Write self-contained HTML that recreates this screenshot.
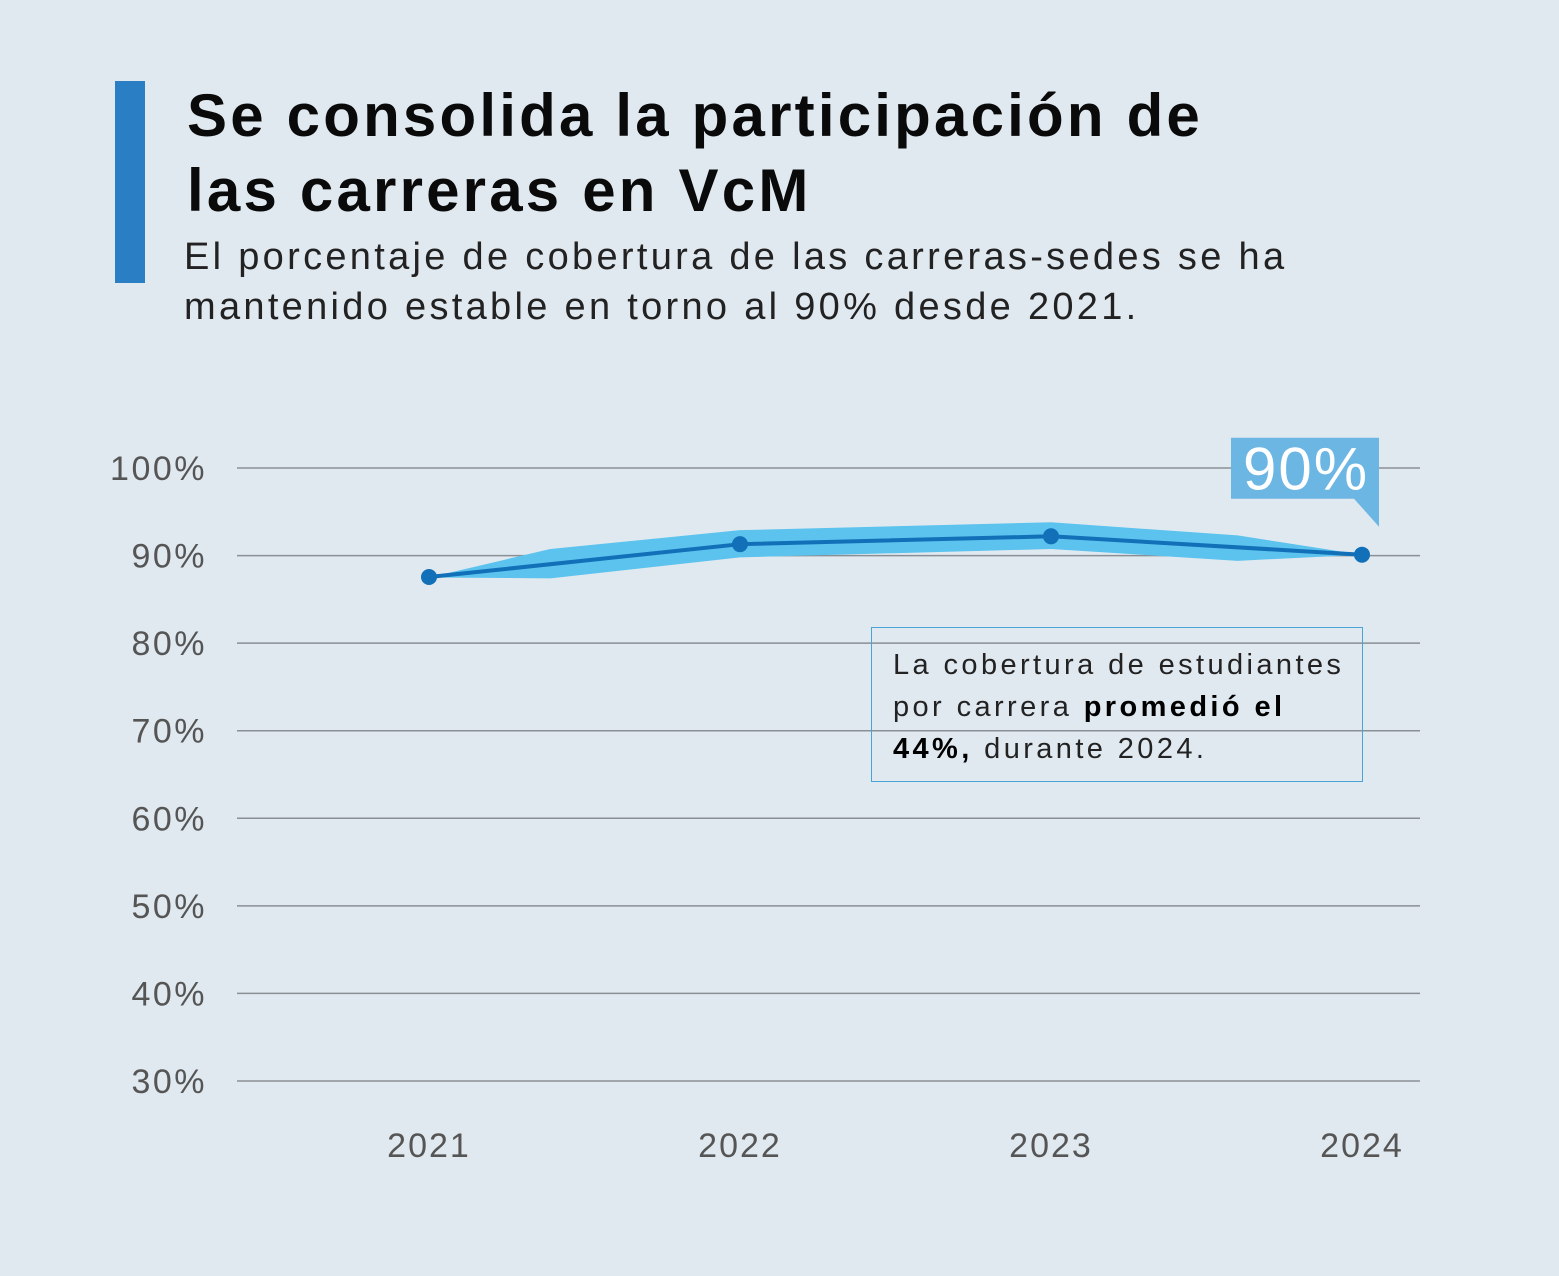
<!DOCTYPE html>
<html><head><meta charset="utf-8"><style>
body{margin:0;background:#e1e9f0;font-family:"Liberation Sans",sans-serif;}
#wrap{position:relative;width:1559px;height:1276px;overflow:hidden;background:#e1e9f0;}
.bar{position:absolute;left:115px;top:81px;width:30px;height:202px;background:#2a7fc4;}
h1{position:absolute;left:187px;top:78px;margin:0;font-size:60px;line-height:75px;font-weight:bold;color:#0a0a0a;letter-spacing:3.2px;white-space:nowrap;}
.sub{position:absolute;left:184px;top:232px;font-size:38px;line-height:50px;color:#222;letter-spacing:3.3px;white-space:nowrap;}
.note{position:absolute;left:871px;top:627px;width:492px;height:155px;border:1.5px solid #4aa3d6;box-sizing:border-box;padding:16px 0 0 21px;font-size:29px;line-height:42px;color:#222;letter-spacing:3.4px;white-space:nowrap;}
</style></head><body>
<div id="wrap">
<div class="bar"></div>
<h1>Se consolida la participación de<br>las carreras en VcM</h1>
<div class="sub">El porcentaje de cobertura de las carreras-sedes se ha<br>mantenido estable en torno al 90% desde 2021.</div>
<svg id="chart" width="1559" height="1276" style="position:absolute;left:0;top:0"></svg>
<div class="note">La cobertura de estudiantes<br>por carrera <b style="color:#000">promedió el<br>44%,</b> durante 2024.</div>
</div>
<script>
const categories=["2021","2022","2023","2024"];
const values=[87.55,91.3,92.2,90.1];
const yTicks=[100,90,80,70,60,50,40,30];
const tickLabels=["100%","90%","80%","70%","60%","50%","40%","30%"];
const bandIdx=[0,0.39,1,2,2.6,3];
const bandUpper=[87.5,90.75,92.9,93.8,92.3,90.1];
const bandLower=[87.5,87.4,89.8,90.75,89.4,90.1];
const lastLabel="90%";
const NS="http://www.w3.org/2000/svg";
const svg=document.getElementById('chart');
const y=v=>468+(100-v)*8.757;
const x=i=>429+i*311;
function mk(t,a){const e=document.createElementNS(NS,t);for(const k in a)e.setAttribute(k,a[k]);svg.appendChild(e);return e;}
yTicks.forEach((v,i)=>{
 const l=mk('line',{x1:237,x2:1420,y1:y(v),y2:y(v),stroke:'#8a8f96','stroke-width':1.5});
 
 
 const t=mk('text',{x:207,y:y(v)+12,'text-anchor':'end','font-size':34,fill:'#555','font-family':'Liberation Sans','letter-spacing':2.5});
 t.textContent=tickLabels[i];
 
 
});
categories.forEach((c,i)=>{
 const t=mk('text',{x:x(i),y:1157,'text-anchor':'middle','font-size':34,fill:'#555','font-family':'Liberation Sans','letter-spacing':2});
 t.textContent=c;
 
 
});
let pts=bandIdx.map((b,i)=>x(b)+','+y(bandUpper[i]));
for(let i=bandIdx.length-1;i>=0;i--)pts.push(x(bandIdx[i])+','+y(bandLower[i]));
const band=mk('polygon',{points:pts.join(' '),fill:'#5bc3ee'});


const line=mk('polyline',{points:values.map((v,i)=>x(i)+','+y(v)).join(' '),fill:'none',stroke:'#1170b8','stroke-width':4});


values.forEach((v,i)=>{
 const c=mk('circle',{cx:x(i),cy:y(v),r:8,fill:'#1170b8'});
 
 
});
const lx=x(3),ly=y(values[3]);
const tag=mk('path',{d:`M${lx-131},${ly-117} H${lx+17} V${ly-28} L${lx-8},${ly-56} H${lx-131} Z`,fill:'#6cb6e3'});


const tt=mk('text',{x:lx-56,y:ly-65,'text-anchor':'middle','font-size':60,fill:'#fff','font-family':'Liberation Sans','letter-spacing':2});
tt.textContent=lastLabel;


</script>
</body></html>
